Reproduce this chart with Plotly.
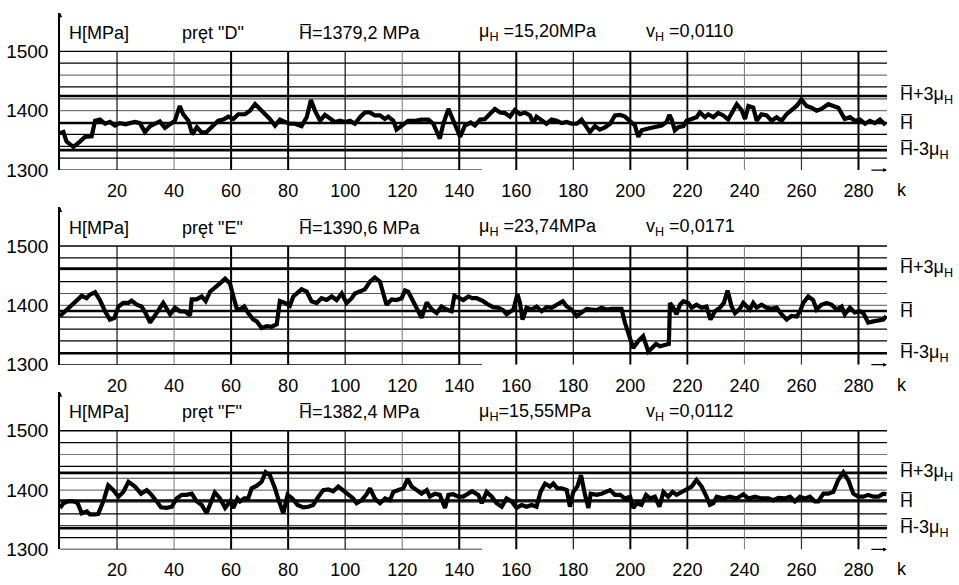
import plotly.graph_objects as go

# ---------------- data ----------------
K_D = [0, 1.2, 2.3, 4.7, 7, 8.8, 11.1, 12.3, 14, 15.8, 17.5, 19.3, 21, 23, 24.5, 26.3, 28, 29.8, 31.6, 33.3,
       35, 36.8, 38.6, 40.3, 42, 43.2, 45, 46.4, 48, 49.7, 51.4, 53.2, 55.5, 57.3, 59, 60.8, 62.5, 64.9, 66.6,
       68.4, 70.1, 71.9, 73.6, 75.4, 77.1, 78.9, 80.6, 82.4, 84.7, 86.5, 88, 89.4, 91.2, 92.9, 94.7, 96.4, 98.2,
       100, 101.7, 103.4, 105.2, 106.9, 108.7, 110.4, 112.2, 113.9, 115.1, 116.9, 118, 119.8, 122.1, 124.5,
       126.8, 129.2, 130.9, 133.2, 134.4, 136.2, 137.9, 140.3, 142, 144,
       145.5, 147.3, 149, 150.8, 152.5, 154.3, 156, 157.8, 159.5, 161.3, 163, 164.8, 166, 167.1, 168.9, 170.6,
       172.4, 174.2, 175.9, 177.7, 179.4, 181.2, 182.9, 184.1, 185.8, 187.6, 189.3, 191.1, 192.9, 194.6, 196.4,
       198.1, 199.9, 201.6, 202.8, 204, 206.3, 208.6, 211, 212.7, 213.7, 214.5, 215.6, 216.8, 218.6, 219.7,
       221.5, 223.2, 224.4, 226.2, 227.3, 229.1, 230.8, 232.6, 234.3, 236.1, 237.3, 239, 240.2, 241.4, 243.1,
       244.3, 246, 247.8, 249.5, 251.3, 253, 254.8, 256.5, 258.3, 260, 261.8, 263.5, 265.3, 267, 269.4, 271.2,
       272.9, 275.2, 277, 278.7, 280.5, 282.3, 284, 285.8, 287.5, 289.5]
H_D = [1362, 1364, 1348, 1339, 1348, 1356, 1357, 1383, 1385, 1378, 1381, 1375, 1379, 1377, 1379, 1381, 1379,
       1364, 1374, 1378, 1382, 1371, 1378, 1383, 1408, 1394, 1383, 1360, 1372, 1363, 1364, 1372, 1383, 1385,
       1390, 1386, 1394, 1394, 1400, 1411, 1403, 1394, 1386, 1375, 1385, 1381, 1378, 1378, 1374, 1389, 1418,
       1400, 1383, 1393, 1386, 1381, 1383, 1381, 1383, 1378, 1389, 1397, 1397, 1392, 1392, 1386, 1390, 1383,
       1368, 1375, 1383, 1383, 1385, 1385, 1378, 1353, 1378, 1403, 1383, 1356, 1375, 1380,
       1375, 1385, 1386, 1394, 1403, 1397, 1396, 1390, 1401, 1394, 1397, 1392, 1379, 1390, 1383, 1378, 1385,
       1383, 1379, 1381, 1378, 1378, 1385, 1375, 1364, 1374, 1368, 1372, 1378, 1392, 1393, 1390, 1383, 1375,
       1356, 1367, 1370, 1372, 1375, 1381, 1393, 1385, 1367, 1372, 1374, 1383, 1386, 1389, 1397, 1389, 1394,
       1389, 1396, 1392, 1385, 1400, 1411, 1401, 1386, 1408, 1405, 1383, 1394, 1392, 1383, 1389, 1383, 1394,
       1401, 1408, 1419, 1408, 1405, 1400, 1403, 1411, 1408, 1405, 1386, 1389, 1383, 1385, 1378, 1383, 1379,
       1385, 1376]

K_E = [0, 1.8, 4.1, 5.8, 7.6, 9.3, 10.5, 12.3, 14, 15.8, 17.5, 19.1, 20.5, 22.2, 24, 25.1, 26.9, 28.6, 30,
       31.6, 33.3, 34.7, 36.2, 37.4, 38.6, 40.3, 42.1, 43.8, 45.6, 46.2, 47.9, 49.7, 51.1, 52.6, 54.3, 56.1,
       57.9, 59.6, 60.8, 62, 63.1, 64.6, 66, 67.8, 69, 70.7, 72.5, 74.2, 76, 77.1, 78.9, 80.6, 81.8, 83, 84.7,
       86.5, 88.2, 90, 91.7, 93.5, 95.3, 97, 98.8, 100.5, 102.3, 103.4, 105.2, 106.9, 108.7, 110.4, 112.2,
       113.4, 114.5, 116.3, 118, 119.8, 121, 122.1, 123.3, 125.1, 126.8, 128.6, 130.4, 132.1, 133.8, 135.6,
       137.3, 138.3, 139.7, 141.4, 143.2, 144.5, 146.1, 148.4, 150.2, 151.9, 153.7, 155.4, 156.6, 157.8, 159,
       160.4, 161.3, 162.2, 163.6, 165.4, 167.1, 168.9, 170.6, 172.4, 174.2, 176.3, 177.7, 179.4, 181.2,
       182.9, 184.7, 186.4, 188.2, 189.9, 191.7, 193.4, 195.2, 196.9, 198.1, 199.9, 201, 202.8, 204.5, 206.3,
       207.5, 209, 210.4, 212.1, 213.5, 213.9, 215.1, 216.2, 217.4, 218.6, 220.3, 221.5, 223.2, 225, 226.7,
       228.1, 229.7, 231.4, 232.8, 234.1, 235.5, 236.7, 238.4, 239.6, 240.8, 241.9, 243.1, 244.3, 246, 247.8,
       249.5, 251.3, 253, 254.8, 256.5, 258.3, 259.5, 260.6, 262.4, 264.1, 265.3, 267, 268.8, 270.6, 272.3,
       274.1, 275.2, 277, 278.7, 280.5, 281.7, 283.4, 285.2, 287, 288.7, 289.8]
H_E = [1382, 1390, 1401, 1409, 1416, 1412, 1418, 1422, 1409, 1390, 1376, 1379, 1398, 1404, 1404, 1408, 1401,
       1398, 1387, 1371, 1382, 1393, 1404, 1396, 1385, 1396, 1390, 1390, 1383, 1410, 1410, 1415, 1407, 1423,
       1429, 1437, 1445, 1437, 1415, 1394, 1393, 1398, 1387, 1376, 1373, 1362, 1365, 1364, 1368, 1407, 1404,
       1399, 1415, 1420, 1427, 1423, 1407, 1404, 1412, 1409, 1415, 1409, 1420, 1404, 1412, 1420, 1423, 1427,
       1440, 1447, 1440, 1420, 1401, 1410, 1409, 1412, 1425, 1423, 1412, 1398, 1379, 1405, 1393, 1387, 1398,
       1393, 1390, 1416, 1412, 1409, 1415, 1412, 1412, 1407, 1401, 1397, 1396, 1392, 1385, 1390, 1393, 1419,
       1404, 1376, 1396, 1393, 1398, 1390, 1397, 1396, 1401, 1407, 1398, 1393, 1382, 1388, 1394, 1393, 1392,
       1396, 1393, 1394, 1394, 1394, 1371, 1346, 1328, 1340, 1348, 1322, 1329, 1335, 1331, 1333, 1335, 1404,
       1396, 1385, 1401, 1407, 1404, 1396, 1401, 1396, 1398, 1376, 1390, 1396, 1404, 1425, 1398, 1387, 1394,
       1404, 1398, 1393, 1404, 1396, 1401, 1396, 1394, 1396, 1385, 1376, 1382, 1381, 1390, 1404, 1415, 1409,
       1393, 1401, 1404, 1401, 1393, 1398, 1385, 1396, 1388, 1390, 1387, 1371, 1373, 1375, 1376, 1382]

K_F = [0, 1.2, 2.9, 4.7, 6.2, 7.6, 9.4, 10.5, 12.3, 13.4, 15.2, 16.9, 18.7, 20.5, 22.2, 24, 26.3, 28.4, 30.4,
       32.1, 33.9, 35.4, 37.4, 39.2, 40.9, 42.7, 44.4, 46.2, 47.9, 49.7, 51.4, 53.2, 54.3, 56.1, 57.9, 59.6,
       60.8, 62.2, 63.1, 64.6, 66, 67.2, 68.9, 70.7, 72.1, 73.6, 75.4, 76.8, 78.3, 79.8, 81.5, 83.3, 85.3,
       87.1, 88.8, 90.6, 92.3, 94.1, 95.8, 97.6, 99.3, 101.1, 102.8, 104, 105.8, 107.5, 108.7, 110.4, 112.2,
       114, 115.7, 116.9, 118.6, 120.4, 121.9, 123.3, 125.1, 126.8, 128.6, 129.7, 131.5, 133.2, 135, 136.2,
       137.9, 139.7, 141.4, 143.2, 144.5, 146.7, 147.9, 149.6, 151.4, 153.1, 154.9, 156.6, 158.4, 160.1,
       161.9, 163.6, 165.4, 167.1, 168.5, 170.1, 171.8, 173, 174.4, 175.9, 177.7, 178.8, 180, 181.4, 182.7,
       184.1, 185.3, 186.1, 188.2, 189.9, 191.1, 192.9, 194.6, 196.4, 198.1, 199.9, 201, 202.2, 203.9, 205.5,
       206.9, 208.6, 210.2, 211.6, 213.3, 214.8, 216.2, 218, 219.7, 221.5, 223.2, 225, 226.7, 227.9, 229.1,
       230.3, 232.6, 234.9, 237.3, 239.6, 241.4, 243.7, 246, 248.4, 250.1, 251.9, 254.2, 256, 257.7, 259.5,
       261.2, 263, 264.7, 265.9, 267.7, 269.4, 271.2, 272.9, 274.7, 276.4, 278.2, 279.9, 281.7, 283.4, 285.2,
       287, 288.7, 289.8]
H_F = [1370, 1378, 1381, 1381, 1378, 1361, 1364, 1359, 1359, 1360, 1381, 1408, 1400, 1389, 1397, 1414, 1406,
       1394, 1400, 1392, 1381, 1371, 1370, 1372, 1386, 1392, 1392, 1394, 1381, 1375, 1361, 1381, 1396, 1386,
       1370, 1381, 1370, 1386, 1381, 1386, 1386, 1403, 1407, 1414, 1430, 1425, 1403, 1381, 1361, 1392, 1386,
       1375, 1371, 1372, 1375, 1389, 1400, 1401, 1398, 1406, 1400, 1393, 1386, 1378, 1383, 1393, 1403, 1386,
       1378, 1386, 1383, 1397, 1400, 1403, 1419, 1406, 1400, 1394, 1400, 1389, 1394, 1392, 1370, 1392, 1393,
       1389, 1389, 1394, 1398, 1392, 1378, 1397, 1389, 1378, 1372, 1386, 1381, 1370, 1375, 1372, 1375, 1372,
       1397, 1411, 1406, 1411, 1403, 1403, 1400, 1372, 1397, 1406, 1425, 1392, 1370, 1394, 1392, 1394, 1397,
       1400, 1392, 1392, 1386, 1389, 1370, 1378, 1375, 1392, 1386, 1389, 1372, 1397, 1389, 1397, 1392, 1397,
       1400, 1406, 1417, 1406, 1389, 1375, 1378, 1389, 1386, 1389, 1386, 1393, 1386, 1389, 1386, 1386, 1383,
       1387, 1386, 1389, 1381, 1389, 1386, 1389, 1381, 1381, 1394, 1394, 1397, 1417, 1430, 1417, 1394, 1389,
       1389, 1392, 1389, 1389, 1394, 1393]

BARS = ['D', 'E', 'F']
MEAN = [1379.2, 1390.6, 1382.4]
MU = [15.20, 23.74, 15.55]
MEAN_TXT = ['1379,2', '1390,6', '1382,4']
MU_TXT = ['15,20', '23,74', '15,55']
V_TXT = ['0,0110', '0,0171', '0,0112']
MU_SPACE = [' ', ' ', '']
GRID_H = [1480, 1460, 1440, 1420, 1400, 1380, 1360, 1340, 1320]
GRID_V = [20, 40, 60, 80, 100, 120, 140, 160, 180, 200, 220, 240, 260, 280]
Y_TICKS = [1300, 1400, 1500]

SERIES = [(K_D, H_D), (K_E, H_E), (K_F, H_F)]

# ---------------- layout geometry ----------------
W, H = 959, 585
X_LEFT, X_RIGHT = 60, 887
XMAX = 290
YMIN, YMAX = 1300, 1565
BOTTOM_PX = [173.3, 371.7, 560.0]
PX_PER_UNIT = 0.605
FONT = 'Liberation Sans, Arial, sans-serif'

VSTYLE = {20: (1.2, '#111'), 40: (1.0, '#777'), 60: (2.0, '#000'), 80: (2.0, '#000'),
          100: (1.2, '#111'), 120: (1.0, '#777'), 140: (2.0, '#000'), 160: (2.0, '#000'),
          180: (1.2, '#111'), 200: (2.0, '#000'), 220: (1.8, '#000'), 240: (1.0, '#777'),
          260: (1.2, '#333'), 280: (2.0, '#000')}
HSTYLE = {1460: (1.2, '#777'), 1400: (1.2, '#777'), 1420: (1.2, '#555')}

fig = go.Figure()
layout = dict(width=W, height=H, margin=dict(l=0, r=0, t=0, b=0),
              paper_bgcolor='white', plot_bgcolor='white', showlegend=False,
              font=dict(family=FONT, size=18, color='black'))
shapes = []
annotations = []

for i, (kk, hh) in enumerate(SERIES):
    sfx = '' if i == 0 else str(i + 1)
    xa, ya = 'x' + sfx, 'y' + sfx
    b = BOTTOM_PX[i]
    top = b - (YMAX - YMIN) * PX_PER_UNIT
    layout['xaxis' + sfx] = dict(domain=[X_LEFT / W, X_RIGHT / W], range=[0, XMAX], anchor=ya,
                                 showgrid=False, zeroline=False, showline=False, ticks='',
                                 tickvals=GRID_V, ticktext=[str(v) for v in GRID_V],
                                 tickfont=dict(family=FONT, size=18, color='black'),
                                 ticklabelstandoff=8, fixedrange=True)
    layout['yaxis' + sfx] = dict(domain=[1 - b / H, 1 - top / H], range=[YMIN, YMAX], anchor=xa,
                                 showgrid=False, zeroline=False, showline=True, linecolor='black',
                                 linewidth=1.5, ticks='', tickvals=Y_TICKS,
                                 ticktext=[str(v) for v in Y_TICKS],
                                 tickfont=dict(family=FONT, size=19, color='black'),
                                 ticklabelstandoff=6, fixedrange=True)

    # thin horizontal grid
    shapes.append(dict(type='line', xref=xa, yref=ya, x0=0, x1=XMAX, y0=1500, y1=1500,
                       line=dict(color='black', width=1.3), layer='below'))
    for g in GRID_H:
        w, c = HSTYLE.get(g, (1.2, '#000'))
        shapes.append(dict(type='line', xref=xa, yref=ya, x0=0, x1=XMAX, y0=g, y1=g,
                           line=dict(color=c, width=w), layer='below'))
    # vertical grid
    for g in GRID_V:
        w, c = VSTYLE[g]
        shapes.append(dict(type='line', xref=xa, yref=ya, x0=g, x1=g, y0=1300, y1=1500,
                           line=dict(color=c, width=w), layer='below'))
    # statistic lines
    m, mu = MEAN[i], MU[i]
    for lv in (m + 3 * mu, m, m - 3 * mu):
        shapes.append(dict(type='line', xref=xa, yref=ya, x0=0, x1=XMAX, y0=lv, y1=lv,
                           line=dict(color='black', width=2.6), layer='below'))
    # bottom axis (partly drawn) and arrow
    shapes.append(dict(type='line', xref=xa, yref=ya, x0=0, x1=148, y0=1300, y1=1300,
                       line=dict(color='black', width=1.3), layer='below'))
    annotations.append(dict(xref=xa, yref=ya, axref=xa, ayref=ya, x=290, y=1300, ax=284, ay=1300,
                            showarrow=True, arrowhead=2, arrowsize=0.6, arrowwidth=1.3,
                            arrowcolor='black', text=''))
    # top arrow on y axis
    annotations.append(dict(xref=xa, yref=ya, axref=xa, ayref=ya, x=0, y=YMAX, ax=0, ay=YMAX - 8,
                            showarrow=True, arrowhead=2, arrowsize=0.6, arrowwidth=1.5,
                            arrowcolor='black', text=''))

    # series
    fig.add_trace(go.Scatter(x=kk, y=hh, mode='lines', xaxis=xa, yaxis=ya,
                             line=dict(color='black', width=4.2), hoverinfo='skip'))

    # header texts
    hy = 1531
    hdr = [(2.4, 'H[MPa]'), (42.1, 'pręt "%s"' % BARS[i]),
           (83.1, 'H\u0305=%s MPa' % MEAN_TXT[i]),
           (146.4, '\u03bc<sub>H</sub>%s=%sMPa' % (MU_SPACE[i], MU_TXT[i])),
           (204.8, 'v<sub>H</sub> =%s' % V_TXT[i])]
    for xx, tx in hdr:
        annotations.append(dict(xref=xa, yref=ya, x=xx, y=hy, text=tx, showarrow=False,
                                xanchor='left', yanchor='middle',
                                font=dict(family=FONT, size=18, color='black')))
    # right labels
    for lv, tx in ((m + 3 * mu, 'H\u0305+3\u03bc<sub>H</sub>'), (m, 'H\u0305'),
                   (m - 3 * mu, 'H\u0305-3\u03bc<sub>H</sub>')):
        annotations.append(dict(xref='paper', yref=ya, x=898 / W, y=lv, text=tx, showarrow=False,
                                xanchor='left', yanchor='middle',
                                font=dict(family=FONT, size=18, color='black')))
    # k label
    annotations.append(dict(xref='paper', yref=ya, x=895 / W, y=1300, text='k', showarrow=False,
                            xanchor='left', yanchor='top', yshift=-8,
                            font=dict(family=FONT, size=18, color='black')))

layout['shapes'] = shapes
layout['annotations'] = annotations
fig.update_layout(**layout)
fig.write_html('out.html')
